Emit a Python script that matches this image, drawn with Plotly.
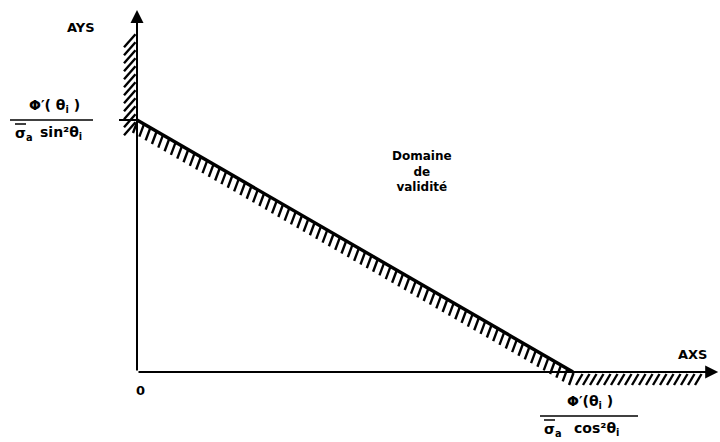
import plotly.graph_objects as go
import numpy as np

# --- data (normalized intercepts of the validity boundary) ---
x_intercept = 1.0   # Φ'(θi) / (σa cos²θi)
y_intercept = 1.0   # Φ'(θi) / (σa sin²θi)
x_axis_end = 1.333
y_axis_end = 1.437
y_hatch_top = 1.34
x_hatch_end = 1.29

W, H = 720, 442
ox, oy = 137, 372          # pixel position of origin
sx, sy = 436.0, 252.0      # pixels per unit
xr = [-ox / sx, (W - ox) / sx]
yr = [-(H - oy) / sy, oy / sy]

def px2x(p):  # pixel offsets -> data
    return p / sx
def py2y(p):
    return -p / sy

fig = go.Figure()

# hatch strokes along boundary line
hx, hy = [], []
n = int(x_intercept * sx / 6.3)
for k in range(n + 1):
    t = k / n
    x = t * x_intercept
    y = (1 - t) * y_intercept
    hx += [x + px2x(0.5), x + px2x(-4.0), None]
    hy += [y + py2y(1.0), y + py2y(13.0), None]
# hatch on y axis (left side)
for yv in np.arange(y_hatch_top, y_intercept - 0.02, -8.0 / sy):
    hx += [px2x(-1.5), px2x(-13.0), None]
    hy += [yv, yv + py2y(13.0), None]
# hatch below x axis
for xv in np.arange(x_intercept + px2x(6), x_hatch_end, 7.0 / sx):
    hx += [xv + px2x(3.5), xv + px2x(-3.0), None]
    hy += [py2y(2.0), py2y(13.0), None]

fig.add_trace(go.Scatter(x=hx, y=hy, mode="lines",
                         line=dict(color="black", width=2.4),
                         hoverinfo="skip", showlegend=False))

# boundary line
fig.add_trace(go.Scatter(x=[0, x_intercept], y=[y_intercept, 0], mode="lines",
                         line=dict(color="black", width=3.4),
                         hoverinfo="skip", showlegend=False))
# small tick at y intercept
fig.add_trace(go.Scatter(x=[px2x(-18), 0], y=[y_intercept, y_intercept], mode="lines",
                         line=dict(color="black", width=2),
                         hoverinfo="skip", showlegend=False))

# axes with arrows
for (x1, y1) in [(x_axis_end, 0), (0, y_axis_end)]:
    fig.add_annotation(x=x1, y=y1, ax=0, ay=0, xref="x", yref="y", axref="x", ayref="y",
                       text="", showarrow=True, arrowhead=2, arrowsize=1.3,
                       arrowwidth=2, arrowcolor="black")

FAM = "DejaVu Sans, Verdana, sans-serif"
big = dict(family=FAM, size=14, color="black")
mid = dict(family=FAM, size=13, color="black")
small = dict(family=FAM, size=12, color="black")

def X(p):  # absolute pixel -> data x
    return (p - ox) / sx
def Y(p):
    return (oy - p) / sy

labels = [
    ("<b>AYS</b>", 81, 27, mid, "center"),
    ("<b>AXS</b>", 692, 354, mid, "center"),
    ("<b>0</b>", 140, 390, mid, "center"),
    ("<b>Φ′( θ<sub>i</sub> )</b>", 54, 106, big, "center"),
    ("<b>σ<sub>a</sub></b>", 13, 134, big, "left"),
    ("<b>sin²θ<sub>i</sub></b>", 38, 133, big, "left"),
    ("<b>Φ′(θ<sub>i</sub> )</b>", 590, 402, big, "center"),
    ("<b>σ<sub>a</sub></b>", 542, 430, big, "left"),
    ("<b>cos²θ<sub>i</sub></b>", 572, 429, big, "left"),
    ("<b>Domaine<br>de<br>validité</b>", 422, 171, small, "center"),
]
for txt, px_, py_, f, anc in labels:
    fig.add_annotation(x=X(px_), y=Y(py_), xref="x", yref="y", text=txt,
                       showarrow=False, font=f, align="center", xanchor=anc)

# fraction bars and bars over sigma
for (a, b, c, w) in [(10, 93, 120, 1.5), (540, 638, 416, 1.5),
                     (15, 26, 124, 1.5), (544, 555, 420, 1.5)]:
    fig.add_shape(type="line", x0=X(a), x1=X(b), y0=Y(c), y1=Y(c),
                  xref="x", yref="y", line=dict(color="black", width=w))

fig.update_layout(width=W, height=H, margin=dict(l=0, r=0, t=0, b=0),
                  paper_bgcolor="white", plot_bgcolor="white",
                  xaxis=dict(range=xr, visible=False, fixedrange=True),
                  yaxis=dict(range=yr, visible=False, fixedrange=True))
fig.write_html("out.html", config={"displayModeBar": False},
               post_script="document.body.style.margin='0px';")
